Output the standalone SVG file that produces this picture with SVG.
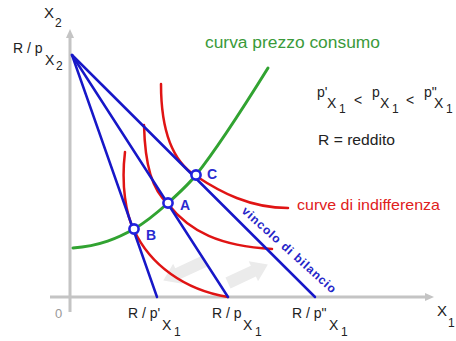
<svg xmlns="http://www.w3.org/2000/svg" width="456" height="341" viewBox="0 0 456 341">
<style>
text{font-family:"Liberation Sans",Arial,sans-serif;fill:#222}
.axis{stroke:#c4c4c4;stroke-width:3;fill:none}
.budget{stroke:#1717c8;stroke-width:2.5;fill:none;stroke-linecap:round}
.indiff{stroke:#e01414;stroke-width:2.5;fill:none;stroke-linecap:round}
.pcc{stroke:#31a331;stroke-width:3;fill:none;stroke-linecap:round}
.pt{fill:#fff;stroke:#2222dd;stroke-width:2.6}
.ptl{fill:#2a2ad0;font-weight:bold;font-size:14px}
.garrow{fill:#ebebeb}
.sx{font-size:14px}
.s1{font-size:12px}
</style>
<rect width="456" height="341" fill="#fff"/>
<g id="axes">
<line class="axis" x1="70" y1="312" x2="70" y2="36"/>
<polygon points="70,29 66,38 74,38" fill="#c4c4c4"/>
<line class="axis" x1="50" y1="297" x2="426" y2="297"/>
<polygon points="434,297 425,293 425,301" fill="#c4c4c4"/>
</g>
<g id="shift-arrows">
<polygon class="garrow" transform="translate(205,261) rotate(155)" points="0,-6 30,-6 30,-11 46,0 30,11 30,6 0,6"/>
<polygon class="garrow" transform="translate(228,283) rotate(-25)" points="0,-6 28,-6 28,-11 44,0 28,11 28,6 0,6"/>
</g>
<g id="connectors">
<path id="pcc" class="pcc" d="M73,248 C100,246 118,238 134,229 C148,221 158,212 168,203 C178,194 188,185 196,175 C220,145 245,105 268,68"/>
<path id="ic-c" class="indiff" d="M161,84 C161,125 170,160 196,176 C220,192 250,208 288,208"/>
<path id="ic-a" class="indiff" d="M144,125 C145,165 152,190 168,204 C190,232 220,246 272,249"/>
<path id="ic-b" class="indiff" d="M125,152 C121,185 126,215 134,230 C150,265 185,290 228,297"/>
<line id="bl-b" class="budget" x1="72" y1="55" x2="157" y2="297"/>
<line id="bl-a" class="budget" x1="72" y1="55" x2="228" y2="297"/>
<line id="bl-c" class="budget" x1="72" y1="55" x2="315" y2="297"/>
</g>
<g id="point-B"><circle class="pt" cx="134" cy="229" r="4.6"/><text class="ptl" x="146" y="240">B</text></g>
<g id="point-A"><circle class="pt" cx="168" cy="203" r="4.6"/><text class="ptl" x="180" y="210">A</text></g>
<g id="point-C"><circle class="pt" cx="196" cy="175" r="4.6"/><text class="ptl" x="207" y="179">C</text></g>
<g id="labels">
<text x="44" y="18" font-size="15">X<tspan font-size="12" dx="1" dy="9">2</tspan></text>
<text x="13" y="53" font-size="14">R / p</text>
<text class="sx" x="45" y="65">X</text>
<text class="s1" x="56" y="70">2</text>
<text x="205" y="48" font-size="16" style="fill:#3a9a3a" textLength="175" lengthAdjust="spacingAndGlyphs">curva prezzo consumo</text>
<text x="317" y="97" font-size="14">p'</text>
<text class="sx" x="327" y="108">X</text>
<text class="s1" x="339" y="113">1</text>
<text x="354" y="105" font-size="14">&lt;</text>
<text x="372" y="97" font-size="14">p</text>
<text class="sx" x="380" y="108">X</text>
<text class="s1" x="392" y="113">1</text>
<text x="406" y="105" font-size="14">&lt;</text>
<text x="424" y="97" font-size="14">p"</text>
<text class="sx" x="434" y="108">X</text>
<text class="s1" x="446" y="113">1</text>
<text x="318" y="145" font-size="14" textLength="77" lengthAdjust="spacingAndGlyphs">R = reddito</text>
<text x="297" y="210" font-size="15" style="fill:#e02020" textLength="143" lengthAdjust="spacingAndGlyphs">curve di indifferenza</text>
<text transform="translate(241,212) rotate(42)" font-size="12" font-weight="bold" style="fill:#2424c8" textLength="122" lengthAdjust="spacing">vincolo di bilancio</text>
<text x="55" y="318" font-size="13" style="fill:#999">0</text>
<text x="128" y="318" font-size="14">R / p'</text>
<text class="sx" x="162" y="330">X</text>
<text class="s1" x="174" y="336">1</text>
<text x="212" y="318" font-size="14">R / p</text>
<text class="sx" x="243" y="330">X</text>
<text class="s1" x="255" y="336">1</text>
<text x="292" y="318" font-size="14">R / p"</text>
<text class="sx" x="329" y="330">X</text>
<text class="s1" x="341" y="336">1</text>
<text x="437" y="316" font-size="15">X</text>
<text x="448" y="327" font-size="12">1</text>
</g>
</svg>
